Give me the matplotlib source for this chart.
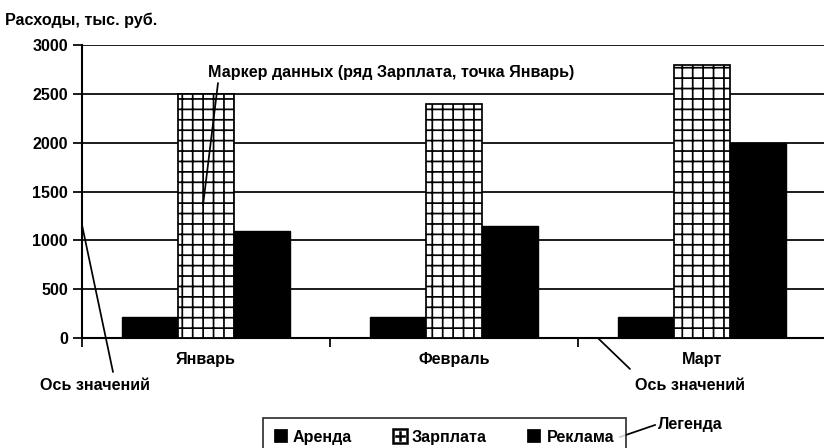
import matplotlib.pyplot as plt
from matplotlib.lines import Line2D
import numpy as np

plt.rcParams['font.family'] = ['Liberation Sans', 'DejaVu Sans']
plt.rcParams['font.weight'] = 'bold'
plt.rcParams['hatch.linewidth'] = 1.0
plt.rcParams['hatch.color'] = 'black'

months = ['Январь', 'Февраль', 'Март']
series = ['Аренда', 'Зарплата', 'Реклама']
rent = [220, 220, 220]
salary = [2500, 2400, 2800]
ads = [1100, 1150, 2000]
y_ticks = [0, 500, 1000, 1500, 2000, 2500, 3000]

FS = 9.3
DPI = 125
fig = plt.figure(figsize=(824 / DPI, 448 / DPI), dpi=DPI)
ax = fig.add_axes([82 / 824, 1 - 338 / 448, 744 / 824, 293 / 448])

x = np.arange(len(months))
w = 0.225
ax.bar(x - w, rent, w, color='black', edgecolor='black', lw=0.8, zorder=3)
ax.bar(x, salary, w, color='white', edgecolor='black', hatch='++', lw=1.0, zorder=3)
ax.bar(x + w, ads, w, color='black', edgecolor='black', lw=0.8, zorder=3)

ax.set_xlim(-0.5, 2.5)
ax.set_ylim(0, 3000)
ax.set_yticks(y_ticks)
ax.yaxis.grid(True, color='black', lw=1.0)
ax.set_axisbelow(True)
ax.tick_params(axis='y', length=5, width=1.0, labelsize=FS, pad=3)

# category labels without marks, boundaries marked with minor ticks
ax.set_xticks(x)
ax.set_xticklabels(months)
ax.set_xticks([-0.5, 0.5, 1.5, 2.5], minor=True)
ax.tick_params(axis='x', which='major', length=0, labelsize=FS, pad=8)
ax.tick_params(axis='x', which='minor', length=5, width=1.0)

for side in ['top', 'right']:
    ax.spines[side].set_visible(False)
for side in ['left', 'bottom']:
    ax.spines[side].set_linewidth(1.2)

fig.text(5, 428, 'Расходы, тыс. руб.', transform=None, fontsize=FS,
         va='center', ha='left')

# callout: data marker
fig.text(208, 376, 'Маркер данных (ряд Зарплата, точка Январь)',
         transform=None, fontsize=FS, va='center', ha='left')
ax.annotate('', xy=(-0.012, 1360), xycoords='data',
            xytext=(218, 365), textcoords='figure pixels',
            arrowprops=dict(arrowstyle='-', lw=1.0, color='black',
                            shrinkA=0, shrinkB=0))

# callout: value axis (left)
ytrans = ax.get_yaxis_transform()
fig.text(40, 63, 'Ось значений', transform=None, fontsize=FS,
         va='center', ha='left')
ax.annotate('', xy=(0, 1157), xycoords=ytrans,
            xytext=(113, 76), textcoords='figure pixels',
            arrowprops=dict(arrowstyle='-', lw=1.0, color='black',
                            shrinkA=0, shrinkB=0))

# callout: value axis (right)
fig.text(635, 63, 'Ось значений', transform=None, fontsize=FS,
         va='center', ha='left')
ax.annotate('', xy=(1.58, 0), xycoords='data',
            xytext=(630, 79), textcoords='figure pixels',
            arrowprops=dict(arrowstyle='-', lw=1.0, color='black',
                            shrinkA=0, shrinkB=0))

handles = [
    Line2D([], [], ls='none', marker='s', ms=7, mfc='black', mec='black'),
    Line2D([], [], ls='none', marker=r'$\boxplus$', ms=9, mfc='black',
           mec='black', mew=0.3),
    Line2D([], [], ls='none', marker='s', ms=7, mfc='black', mec='black'),
]
leg = fig.legend(handles, series, loc='upper left',
                 bbox_to_anchor=(263 / 824, 1 - 418 / 448),
                 ncol=3, fontsize=FS, frameon=True, fancybox=False,
                 edgecolor='black', borderaxespad=0, handlelength=0.7,
                 handletextpad=0.4, columnspacing=2.6, borderpad=0.75)
leg.get_frame().set_linewidth(1.0)

# callout: legend
fig.text(658, 24, 'Легенда', transform=None, fontsize=FS,
         va='center', ha='left')
fig.add_artist(Line2D([620, 655], [11, 23], transform=None,
                      color='black', lw=1.0))

fig.savefig('out.png', dpi=DPI)
